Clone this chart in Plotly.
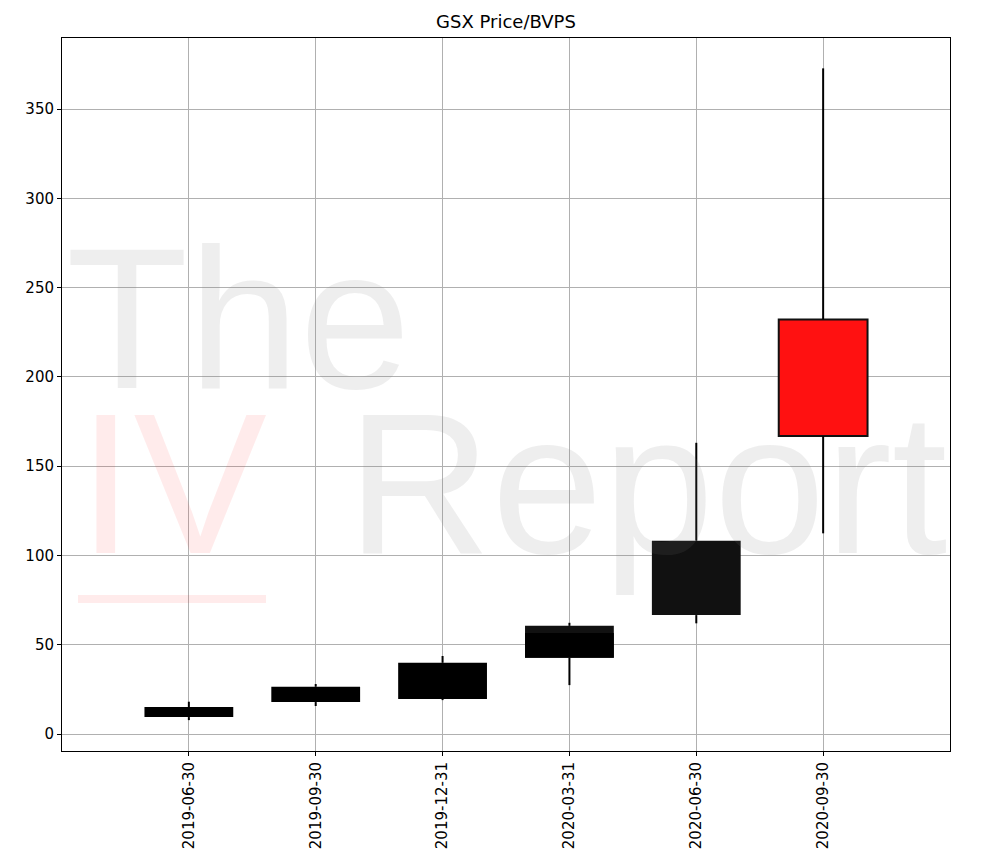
import plotly.graph_objects as go

# quarterly Price/BVPS ranges
quarters = ["2019-06-30", "2019-09-30", "2019-12-31", "2020-03-31", "2020-06-30", "2020-09-30"]
box_low = [9.5, 17.9, 19.6, 42.7, 66.6, 166.9]
box_high = [15.1, 26.5, 39.9, 60.6, 108.3, 232.2]
whisker_low = [7.8, 15.7, 19.0, 27.4, 62.0, 112.4]
whisker_high = [18.1, 28.0, 43.7, 62.3, 163.1, 372.8]
box_colors = ["#000000", "#000000", "#000000", "#111111", "#111111", "#ff1111"]
box_edges = ["#000000", "#000000", "#000000", "#111111", "#111111", "#111111"]

# darker inner band drawn over the 2020-03-31 box
inner_quarter = ["2020-03-31"]
inner_low = [42.7]
inner_high = [56.6]

x_pos = list(range(len(quarters)))

# page body has an 8px margin, so lay the figure out in page pixels minus that
OFF = 8
W, H = 994 - OFF, 852 - OFF
PL, PR, PT, PB = 62 - OFF, 950 - OFF, 38 - OFF, 751 - OFF

fig = go.Figure()

# whiskers outside the box only (bars always sit below scatter lines)
wx, wy = [], []
for i, lo, blo, bhi, hi in zip(x_pos, whisker_low, box_low, box_high, whisker_high):
    wx += [i, i, None, i, i, None]
    wy += [lo, blo, None, bhi, hi, None]

fig.add_trace(
    go.Scatter(
        x=wx,
        y=wy,
        mode="lines",
        line=dict(color="black", width=2),
        hoverinfo="skip",
    )
)

fig.add_trace(
    go.Bar(
        x=x_pos,
        y=[h - l for h, l in zip(box_high, box_low)],
        base=box_low,
        width=0.7,
        marker=dict(color=box_colors, line=dict(color=box_edges, width=[0, 0, 0, 0, 0, 2])),
    )
)

fig.add_trace(
    go.Bar(
        x=[quarters.index(q) for q in inner_quarter],
        y=[h - l for h, l in zip(inner_high, inner_low)],
        base=inner_low,
        width=0.7,
        marker=dict(color="#000000", line=dict(width=0)),
    )
)

# watermark
wm_grey = "rgba(120,120,120,0.13)"
wm_red = "rgba(255,0,0,0.08)"
pw, ph = PR - PL, PB - PT
for text, x, y, color in [
    ("The", 64, 390, wm_grey),
    ("IV", 76, 555, wm_red),
    ("Report", 345, 555, wm_grey),
]:
    fig.add_annotation(
        text=text,
        xref="paper",
        yref="paper",
        x=(x - OFF - PL) / pw,
        y=(PB - (y - OFF)) / ph,
        xanchor="left",
        yanchor="bottom",
        yshift=-42,
        showarrow=False,
        font=dict(family="Liberation Sans", size=200, color=color),
    )

fig.add_shape(
    type="rect",
    xref="paper",
    yref="paper",
    x0=(78 - OFF - PL) / pw,
    x1=(266 - OFF - PL) / pw,
    y0=(PB - (603 - OFF)) / ph,
    y1=(PB - (595 - OFF)) / ph,
    fillcolor=wm_red,
    line=dict(width=0),
    layer="above",
)

fig.update_layout(
    width=W,
    height=H,
    barmode="overlay",
    showlegend=False,
    plot_bgcolor="white",
    paper_bgcolor="white",
    margin=dict(l=PL, r=W - PR, t=PT, b=H - PB),
    font=dict(family="DejaVu Sans", size=15, color="black"),
    title=dict(
        text="GSX Price/BVPS",
        x=0.5,
        xref="paper",
        y=1 - (22 - OFF) / H,
        yref="container",
        yanchor="middle",
        font=dict(size=18, color="black"),
    ),
)

fig.update_xaxes(
    range=[-1, 6],
    tickmode="array",
    tickvals=x_pos,
    ticktext=quarters,
    tickangle=-90,
    showgrid=True,
    gridcolor="#b0b0b0",
    gridwidth=1,
    showline=True,
    linecolor="black",
    linewidth=1,
    mirror=True,
    ticks="outside",
    ticklen=4,
    tickcolor="black",
    zeroline=False,
    automargin=False,
)

fig.update_yaxes(
    range=[-9.5, 389.8],
    tickvals=[0, 50, 100, 150, 200, 250, 300, 350],
    showgrid=True,
    gridcolor="#b0b0b0",
    gridwidth=1,
    showline=True,
    linecolor="black",
    linewidth=1,
    mirror=True,
    ticks="outside",
    ticklen=4,
    tickcolor="black",
    zeroline=False,
    automargin=False,
)

fig.write_html("out.html")
